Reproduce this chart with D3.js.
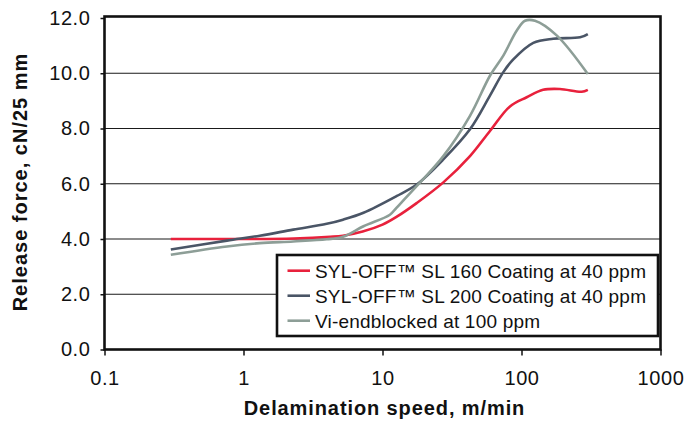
<!DOCTYPE html>
<html>
<head>
<meta charset="utf-8">
<script src="https://cdn.jsdelivr.net/npm/d3@7"></script>
<style>
  body { margin: 0; background: #fff; }
  text { font-family: "Liberation Sans", Arial, Helvetica, sans-serif; fill: #111; }
</style>
</head>
<body>
<svg id="chart" width="688" height="421"></svg>
<script>
// values
const seriesNames = ['SYL-OFF\u2122 SL 160 Coating at 40 ppm',
    'SYL-OFF\u2122 SL 200 Coating at 40 ppm',
    'Vi-endblocked at 100 ppm'];
const seriesColors = ['#e8213c', '#4a5566', '#8d9e97'];

// [speed m/min, release force]
const sl160 = [[0.3, 4.0], [1, 4.0], [2.3, 4.02], [4.2, 4.08], [5.2, 4.12], [7.2, 4.27], [10, 4.52],
    [12.6, 4.8], [17.6, 5.3], [27.4, 6.05], [42.6, 7.0], [59.3, 7.91], [82.6, 8.8],
    [109, 9.13], [143, 9.4], [189, 9.43], [271, 9.33], [300, 9.4]];
const sl200 = [[0.3, 3.62], [0.76, 3.94], [1.31, 4.12], [2.28, 4.34], [3.97, 4.55], [5.2, 4.7],
    [7.3, 4.95], [12.6, 5.55], [17.6, 5.97], [27.4, 6.88], [42.6, 7.97], [59.3, 9.19],
    [74, 10.04], [87.3, 10.5], [121.6, 11.1], [169, 11.25], [264, 11.3], [300, 11.42]];
const viEnd = [[0.3, 3.43], [0.76, 3.73], [1.31, 3.85], [2.28, 3.91], [3.97, 3.99], [5.2, 4.08],
    [7.3, 4.46], [11.3, 4.88], [12.6, 5.13], [17.6, 5.91], [27.4, 7.0], [42.6, 8.46],
    [59.3, 9.91], [74, 10.64], [92.5, 11.55], [106, 11.9], [125, 11.9], [179, 11.37], [300, 9.97]];
const allSeries = [sl160, sl200, viEnd];

const xTicks = [0.1, 1, 10, 100, 1000];
const yTicks = [0, 2, 4, 6, 8, 10, 12];

const svg = d3.select('#chart');
const plotLeft = 104.5, plotRight = 660.5, plotTop = 18, plotBottom = 349.5;

const x = d3.scaleLog().domain([0.1, 1000]).range([plotLeft, plotRight]);
const y = d3.scaleLinear().domain([0, 12]).range([plotBottom, plotTop]);

svg.append('rect').attr('width', 688).attr('height', 421).attr('fill', '#fff');

// horizontal grid lines
svg.append('g')
    .selectAll('line')
    .data(yTicks.filter(d => d > 0 && d < 12))
    .enter().append('line')
    .attr('x1', plotLeft).attr('x2', plotRight)
    .attr('y1', d => y(d)).attr('y2', d => y(d))
    .attr('stroke', '#1a1a1a').attr('stroke-width', 1.2);

// axes
const yAxis = svg.append('g')
    .attr('transform', 'translate(' + plotLeft + ',0)')
    .call(d3.axisLeft(y).tickValues(yTicks).tickSize(4).tickFormat(d3.format('.1f')));
yAxis.select('.domain').remove();
yAxis.selectAll('line').attr('stroke', '#111').attr('stroke-width', 1.5);
yAxis.selectAll('text')
    .attr('x', -14)
    .style('font-size', '20px')
    .style('letter-spacing', '0.6px')
    .attr('fill', '#111');

const xAxis = svg.append('g')
    .attr('transform', 'translate(0,' + plotBottom + ')')
    .call(d3.axisBottom(x).tickValues(xTicks).tickSize(6).tickFormat(d => String(d)));
xAxis.select('.domain').remove();
xAxis.selectAll('line').attr('stroke', '#111').attr('stroke-width', 1.5);
xAxis.selectAll('text')
    .attr('y', 21)
    .style('font-size', '20px')
    .style('letter-spacing', '0.6px')
    .attr('fill', '#111');

// curves
const line = d3.line()
    .x(d => x(d[0]))
    .y(d => y(d[1]))
    .curve(d3.curveCatmullRom.alpha(0.5));

svg.append('g')
    .selectAll('path')
    .data(allSeries)
    .enter().append('path')
    .attr('d', line)
    .attr('fill', 'none')
    .attr('stroke', (d, i) => seriesColors[i])
    .attr('stroke-width', 2.6)
    .attr('stroke-linejoin', 'round');

// frame
svg.append('rect')
    .attr('x', plotLeft).attr('y', plotTop - 1.5)
    .attr('width', plotRight - plotLeft).attr('height', plotBottom - plotTop + 1.5)
    .attr('fill', 'none')
    .attr('stroke', '#111').attr('stroke-width', 2.6);

// legend
const legend = svg.append('g').attr('class', 'legendGroup');
legend.append('rect')
    .attr('x', 277).attr('y', 255)
    .attr('width', 381).attr('height', 81)
    .attr('fill', '#fff')
    .attr('stroke', '#111').attr('stroke-width', 2.6);
legend.selectAll('line')
    .data(seriesNames)
    .enter().append('line')
    .attr('x1', 287.5).attr('x2', 310)
    .attr('y1', (d, i) => 270.7 + i * 25).attr('y2', (d, i) => 270.7 + i * 25)
    .attr('stroke', (d, i) => seriesColors[i])
    .attr('stroke-width', 2.6);
legend.selectAll('text')
    .data(seriesNames)
    .enter().append('text')
    .text(d => d)
    .attr('x', 315)
    .attr('y', (d, i) => 277.5 + i * 25)
    .style('font-size', '19px')
    .style('letter-spacing', '0.2px');

// axis titles
svg.append('text')
    .text('Delamination speed, m/min')
    .attr('x', (plotLeft + plotRight) / 2 + 2)
    .attr('y', 415)
    .attr('text-anchor', 'middle')
    .style('font-size', '20px')
    .style('font-weight', 'bold')
    .style('letter-spacing', '0.9px');

svg.append('text')
    .text('Release force, cN/25 mm')
    .attr('transform', 'translate(27,182) rotate(-90)')
    .attr('text-anchor', 'middle')
    .style('font-size', '20px')
    .style('font-weight', 'bold')
    .style('letter-spacing', '1px');
</script>
</body>
</html>
